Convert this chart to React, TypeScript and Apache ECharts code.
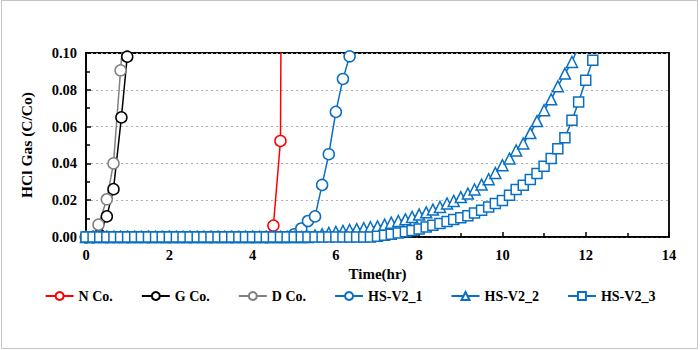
import React, { useEffect, useRef } from "react";
import * as echarts from "echarts";

// time grid for HS-V2 samples (hours, every 10 min)
const timeHS = [
  0, 0.17, 0.33, 0.5, 0.67, 0.83, 1, 1.17, 1.33, 1.5, 1.67, 1.83, 2, 2.17, 2.33, 2.5, 2.67, 2.83,
  3, 3.17, 3.33, 3.5, 3.67, 3.83, 4, 4.17, 4.33, 4.5, 4.67, 4.83, 5, 5.17, 5.33, 5.5, 5.67, 5.83,
  6, 6.17, 6.33, 6.5, 6.67, 6.83, 7, 7.17, 7.33, 7.5, 7.67, 7.83, 8, 8.17, 8.33, 8.5, 8.67, 8.83,
  9, 9.17, 9.33, 9.5, 9.67, 9.83, 10, 10.17, 10.33, 10.5, 10.67, 10.83, 11, 11.17, 11.33, 11.5,
  11.67, 11.83, 12, 12.17,
];

const hs1 = [
  0, 0, 0, 0, 0, 0, 0, 0, 0, 0, 0, 0, 0, 0, 0, 0, 0, 0, 0, 0, 0, 0, 0, 0, 0, 0, 0, 0, 0, 0,
  0.0015, 0.0046, 0.0087, 0.0112, 0.0283, 0.045, 0.068, 0.0859, 0.0982,
];

const hs2 = [
  0, 0, 0, 0, 0, 0, 0, 0, 0, 0, 0, 0, 0, 0, 0, 0, 0, 0, 0, 0, 0, 0, 0, 0, 0, 0, 0, 0, 0, 0,
  0, 0, 0, 0.0008, 0.0015, 0.0022, 0.0028, 0.0033, 0.0038, 0.0043, 0.0048, 0.0053, 0.0058,
  0.0067, 0.0078, 0.0087, 0.0096, 0.0109, 0.0122, 0.0134, 0.0149, 0.0163, 0.0182, 0.0196,
  0.0217, 0.0236, 0.0258, 0.0285, 0.0314, 0.0348, 0.039, 0.0426, 0.047, 0.0508, 0.0565,
  0.063, 0.0689, 0.0748, 0.0819, 0.0888, 0.0951, 0.104,
];

const hs3 = [
  0, 0, 0, 0, 0, 0, 0, 0, 0, 0, 0, 0, 0, 0, 0, 0, 0, 0, 0, 0, 0, 0, 0, 0, 0, 0, 0, 0, 0, 0,
  0, 0, 0, 0, 0, 0, 0, 0, 0, 0, 0, 0, 0.0004, 0.0009, 0.0015, 0.0022, 0.0029, 0.0036, 0.0044,
  0.0054, 0.0064, 0.0073, 0.0084, 0.0095, 0.0105, 0.0116, 0.013, 0.0145, 0.0163, 0.0182,
  0.0199, 0.0227, 0.0258, 0.0281, 0.0312, 0.0345, 0.0384, 0.0426, 0.048, 0.054, 0.0634,
  0.0734, 0.0852, 0.096,
];

const timeN = [0, 0.5, 1, 1.5, 2, 2.5, 3, 3.5, 4, 4.33, 4.5, 4.67, 4.83];
const valN = [0, 0, 0, 0, 0, 0, 0, 0, 0, 0, 0.0062, 0.0522, 0.8];

const timeG = [0, 0.17, 0.33, 0.5, 0.66, 0.85, 0.99];
const valG = [0, 0, 0.001, 0.0112, 0.026, 0.065, 0.098];

const timeD = [0, 0.17, 0.3, 0.5, 0.66, 0.83, 1.0];
const valD = [0, 0, 0.0067, 0.0205, 0.04, 0.0906, 0.14];

const seriesNames = ["N Co.", "G Co.", "D Co.", "HS-V2_1", "HS-V2_2", "HS-V2_3"];

const FONT = "Liberation Serif";
const BLUE = "#0a6fc2";

function pairs(t: number[], v: number[]) {
  return v.map((y, i) => [t[i], y]);
}

export default function App() {
  const ref = useRef<HTMLDivElement>(null);
  useEffect(() => {
    if (!ref.current) return;
    const chart = echarts.init(ref.current, null, { renderer: "svg" });
    const mk = (name: string, data: number[][], color: string, symbol: string, size: number) => ({
      name,
      type: "line",
      data,
      symbol,
      symbolSize: size,
      showAllSymbol: true,
      clip: true,
      lineStyle: { color, width: 1.5 },
      itemStyle: { color: "#fff", borderColor: color, borderWidth: 1.5 },
      emphasis: { disabled: true },
    });
    chart.setOption({
      animation: false,
      backgroundColor: "#fff",
      textStyle: { fontFamily: FONT },
      graphic: [
        {
          type: "rect",
          shape: { x: 1.5, y: 0.5, width: 696, height: 348 },
          style: { fill: "none", stroke: "#c4c4c4", lineWidth: 1 },
          silent: true,
        },
      ],
      grid: {
        left: 86,
        right: 31,
        top: 53,
        bottom: 113,
        show: true,
        borderColor: "#000",
        borderWidth: 1.8,
        backgroundColor: "transparent",
      },
      legend: {
        top: 284,
        left: "center",
        itemWidth: 28,
        itemHeight: 10,
        itemGap: 28,
        textStyle: { fontFamily: FONT, fontWeight: "bold", fontSize: 14, color: "#000" },
        data: seriesNames,
      },
      xAxis: {
        type: "value",
        min: 0,
        max: 14,
        interval: 2,
        name: "Time(hr)",
        nameLocation: "middle",
        nameGap: 28,
        nameTextStyle: { fontFamily: FONT, fontWeight: "bold", fontSize: 15, color: "#000" },
        axisLine: { lineStyle: { color: "#000", width: 1.5 } },
        axisTick: { inside: true, length: 5, lineStyle: { color: "#000", width: 1.5 } },
        minorTick: { show: true, splitNumber: 2, length: 4, lineStyle: { color: "#000", width: 1.5 } },
        axisLabel: { fontFamily: FONT, fontWeight: "bold", fontSize: 14.5, color: "#000", margin: 10 },
        splitLine: { show: false },
      },
      yAxis: {
        type: "value",
        min: 0,
        max: 0.1,
        interval: 0.02,
        name: "HCl Gas (C/Co)",
        nameLocation: "middle",
        nameGap: 52,
        nameTextStyle: { fontFamily: FONT, fontWeight: "bold", fontSize: 15.5, color: "#000" },
        axisLine: { show: true, lineStyle: { color: "#000", width: 1.5 } },
        axisTick: { show: true, inside: true, length: 5, lineStyle: { color: "#000", width: 1.5 } },
        minorTick: { show: true, splitNumber: 2, length: 4, lineStyle: { color: "#000", width: 1.5 } },
        axisLabel: {
          fontFamily: FONT,
          fontWeight: "bold",
          fontSize: 14.5,
          color: "#000",
          margin: 9,
          formatter: (v: number) => v.toFixed(2),
        },
        splitLine: { show: true, lineStyle: { color: "#b0b0b0", type: [2, 3], width: 1 } },
      },
      series: [
        mk(seriesNames[0], pairs(timeN, valN), "#ff0000", "circle", 11),
        mk(seriesNames[1], pairs(timeG, valG), "#000000", "circle", 11),
        mk(seriesNames[2], pairs(timeD, valD), "#808080", "circle", 11),
        mk(seriesNames[3], pairs(timeHS, hs1), BLUE, "circle", 11),
        mk(seriesNames[4], pairs(timeHS, hs2), BLUE, "triangle", 11),
        mk(seriesNames[5], pairs(timeHS, hs3), BLUE, "rect", 10),
      ],
    });
    return () => chart.dispose();
  }, []);
  return (
    <div
      ref={ref}
      style={{ position: "fixed", left: 0, top: 0, width: 700, height: 350, background: "#fff" }}
    />
  );
}
